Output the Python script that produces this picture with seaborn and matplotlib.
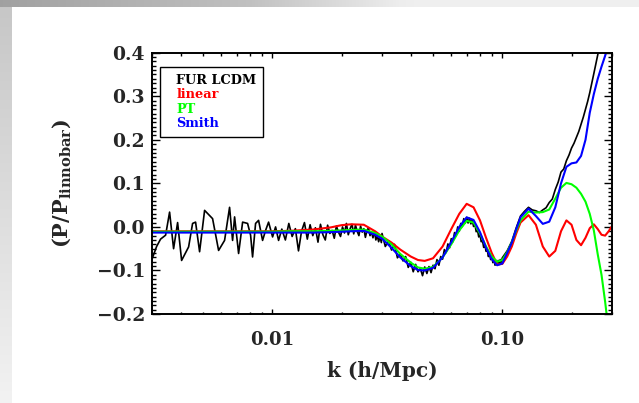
import numpy as np
import matplotlib
matplotlib.use('Agg')
import matplotlib.pyplot as plt
import seaborn as sns
from matplotlib.ticker import FixedLocator, MultipleLocator, NullFormatter

# smooth model curves
model_k = [0.003, 0.005, 0.008, 0.01, 0.012, 0.015, 0.018, 0.02, 0.022, 0.025,
           0.028, 0.03, 0.033, 0.036, 0.04, 0.043, 0.046, 0.05, 0.055, 0.06,
           0.065, 0.07, 0.075, 0.08, 0.085, 0.09, 0.095, 0.1, 0.105, 0.11,
           0.115, 0.12, 0.13, 0.14, 0.15, 0.16, 0.17, 0.18, 0.19, 0.20,
           0.21, 0.22, 0.23, 0.24, 0.25, 0.26, 0.27, 0.28, 0.29, 0.30]
linear_v = [-0.010, -0.010, -0.010, -0.010, -0.009, -0.006, -0.001, 0.004, 0.006, 0.005,
            -0.010, -0.022, -0.036, -0.052, -0.068, -0.076, -0.078, -0.072, -0.045, -0.005,
            0.030, 0.053, 0.045, 0.015, -0.025, -0.060, -0.086, -0.085, -0.068, -0.045,
            -0.015, 0.010, 0.027, 0.005, -0.045, -0.068, -0.055, -0.010, 0.015, 0.005,
            -0.030, -0.042, -0.025, -0.003, 0.006, -0.005, -0.018, -0.020, -0.010, 0.002]
pt_v = [-0.011, -0.011, -0.011, -0.011, -0.010, -0.010, -0.009, -0.008, -0.007, -0.006,
        -0.014, -0.022, -0.040, -0.062, -0.082, -0.093, -0.096, -0.092, -0.070, -0.040,
        -0.008, 0.014, 0.010, -0.015, -0.045, -0.068, -0.080, -0.076, -0.058, -0.035,
        -0.008, 0.015, 0.035, 0.033, 0.034, 0.040, 0.065, 0.090, 0.101, 0.098,
        0.090, 0.076, 0.058, 0.030, -0.008, -0.063, -0.110, -0.172, -0.240, -0.300]
smith_v = [-0.013, -0.013, -0.013, -0.013, -0.013, -0.013, -0.012, -0.011, -0.010, -0.009,
           -0.018, -0.027, -0.048, -0.070, -0.090, -0.099, -0.100, -0.094, -0.070, -0.035,
           0.000, 0.022, 0.016, -0.012, -0.048, -0.074, -0.088, -0.084, -0.060, -0.036,
           -0.005, 0.022, 0.042, 0.025, 0.007, 0.012, 0.045, 0.100, 0.138, 0.146,
           0.148, 0.163, 0.200, 0.262, 0.305, 0.340, 0.368, 0.393, 0.420, 0.440]

# noisy simulation ratio (FUR LCDM)
fur_k = [0.003008, 0.003141, 0.003268, 0.003437, 0.003577, 0.003723, 0.003876, 0.004034,
         0.004327, 0.004503, 0.004640, 0.004830, 0.005078, 0.005501, 0.005842, 0.006203,
         0.006521, 0.006720, 0.006857, 0.007137, 0.007430, 0.007810, 0.008048, 0.008209,
         0.008460, 0.008718, 0.009074, 0.009352, 0.009636, 0.010030, 0.010335, 0.010651,
         0.0110, 0.0114, 0.0118, 0.0122, 0.0126, 0.0130, 0.0134, 0.0138, 0.0142, 0.0146,
         0.0150, 0.0154, 0.0158, 0.0162, 0.0166, 0.0170, 0.0174, 0.0178, 0.0182, 0.0186,
         0.0190, 0.0194, 0.0198, 0.0202, 0.0206, 0.0210, 0.0214, 0.0218, 0.0222, 0.0226,
         0.0230, 0.0234, 0.0238, 0.0242, 0.0246, 0.0250, 0.0254, 0.0258, 0.0262, 0.0266,
         0.0270, 0.0274, 0.0278, 0.0282, 0.0286, 0.0290, 0.0294, 0.0298,
         0.030, 0.031, 0.032, 0.033, 0.034, 0.035, 0.036, 0.037, 0.038, 0.039,
         0.040, 0.041, 0.042, 0.043, 0.044, 0.045, 0.046, 0.047, 0.048, 0.049,
         0.050, 0.051, 0.052, 0.053, 0.054, 0.055, 0.056, 0.057, 0.058, 0.059,
         0.060, 0.061, 0.062, 0.063, 0.064, 0.065, 0.066, 0.067, 0.068, 0.069,
         0.070, 0.071, 0.072, 0.073, 0.074, 0.075, 0.076, 0.077, 0.078, 0.079,
         0.080, 0.081, 0.082, 0.083, 0.084, 0.085, 0.086, 0.087, 0.088, 0.089,
         0.090, 0.091, 0.092, 0.093, 0.094, 0.095, 0.096, 0.097, 0.098, 0.099,
         0.100, 0.105, 0.110, 0.115, 0.120, 0.125, 0.130, 0.135, 0.140, 0.145,
         0.150, 0.155, 0.160, 0.165, 0.170, 0.175, 0.180, 0.185, 0.190, 0.195,
         0.200, 0.205, 0.210, 0.215, 0.220, 0.225, 0.230, 0.235, 0.240, 0.245,
         0.250, 0.255, 0.260, 0.265, 0.270, 0.280, 0.290, 0.300]
fur_v = [-0.072, -0.045, -0.028, -0.019, 0.034, -0.050, 0.010, -0.077,
         -0.046, 0.008, 0.011, -0.057, 0.038, 0.019, -0.054, -0.031,
         0.045, -0.031, 0.023, -0.061, 0.011, 0.008, -0.019, -0.069,
         0.008, 0.015, -0.031, -0.008, 0.011, -0.023, 0.000, -0.031,
         -0.005, -0.030, 0.008, -0.022, -0.004, -0.055, -0.010, 0.010, -0.028, 0.005,
         -0.020, -0.002, -0.035, 0.006, -0.018, -0.030, 0.004, -0.015, -0.008, -0.026,
         0.002, -0.012, -0.022, 0.000, -0.014, 0.008, -0.018, -0.004, 0.006, -0.016,
         0.004, -0.010, -0.020, 0.002, -0.012, -0.004, -0.024, -0.008, -0.002, -0.020,
         -0.012, -0.025, -0.010, -0.030, -0.020, -0.034, -0.022, -0.036,
         -0.015, -0.045, -0.032, -0.053, -0.040, -0.071, -0.062, -0.078, -0.068, -0.093,
         -0.081, -0.103, -0.086, -0.103, -0.095, -0.112, -0.092, -0.107, -0.091, -0.105,
         -0.088, -0.096, -0.075, -0.088, -0.068, -0.074, -0.052, -0.059, -0.039, -0.048,
         -0.027, -0.034, -0.013, -0.020, 0.000, -0.010, 0.008, 0.001, 0.019, 0.009,
         0.022, 0.009, 0.020, 0.007, 0.016, 0.001, 0.006, -0.011, -0.007, -0.023,
         -0.018, -0.034, -0.031, -0.047, -0.042, -0.056, -0.052, -0.068, -0.062, -0.075,
         -0.068, -0.082, -0.074, -0.088, -0.077, -0.088, -0.077, -0.086, -0.075, -0.081,
         -0.071, -0.055, -0.033, -0.002, 0.025, 0.036, 0.045, 0.039, 0.037, 0.033,
         0.039, 0.044, 0.056, 0.064, 0.086, 0.103, 0.126, 0.133, 0.152, 0.165,
         0.181, 0.192, 0.206, 0.219, 0.236, 0.252, 0.270, 0.288, 0.308, 0.330,
         0.352, 0.374, 0.396, 0.416, 0.436, 0.476, 0.516, 0.556]

series_names = ['FUR LCDM', 'linear', 'PT', 'Smith']
series_colors = ['black', '#ff0000', '#00ff00', '#0000ff']
x_ticks = [0.01, 0.1]
x_tick_labels = ['0.01', '0.10']
y_ticks = [-0.2, -0.1, 0.0, 0.1, 0.2, 0.3, 0.4]
y_tick_labels = ['\u22120.2', '\u22120.1', '0.0', '0.1', '0.2', '0.3', '0.4']

sns.set_theme(style='ticks')
plt.rcParams['font.family'] = ['DejaVu Serif']
plt.rcParams['font.weight'] = 'bold'
plt.rcParams['mathtext.fontset'] = 'dejavuserif'
plt.rcParams['mathtext.default'] = 'bf'

fig = plt.figure(figsize=(6.39, 4.03), dpi=100)
fig.patch.set_facecolor('white')

# screenshot-style grey margins
bg = fig.add_axes([0, 0, 1, 1], zorder=-5)
grad = np.ones((403, 639, 3))
top = np.linspace(0.63, 0.95, 639)
top = np.minimum(top + np.clip((np.arange(639) - 250) / 150, 0, 1) * 0.1, 0.94)
grad[:7, :, :] = top[None, :, None]
grad[7:, :12, :] = np.linspace(0.78, 0.95, 396)[:, None, None]
bg.imshow(grad, aspect='auto', extent=[0, 1, 0, 1])
bg.axis('off')

ax = fig.add_axes([0.2379, 0.2208, 0.7199, 0.6484])
ax.set_facecolor('white')

sns.lineplot(x=fur_k, y=fur_v, ax=ax, color=series_colors[0], lw=1.2,
             label=series_names[0], sort=False, estimator=None)
sns.lineplot(x=model_k, y=linear_v, ax=ax, color=series_colors[1], lw=1.5,
             label=series_names[1], sort=False, estimator=None)
sns.lineplot(x=model_k, y=pt_v, ax=ax, color=series_colors[2], lw=1.5,
             label=series_names[2], sort=False, estimator=None)
sns.lineplot(x=model_k, y=smith_v, ax=ax, color=series_colors[3], lw=1.5,
             label=series_names[3], sort=False, estimator=None)

ax.set_xscale('log')
ax.set_xlim(0.003, 0.30)
ax.set_ylim(-0.2, 0.4)
ax.xaxis.set_major_locator(FixedLocator(x_ticks))
ax.set_xticklabels(x_tick_labels)
ax.xaxis.set_minor_formatter(NullFormatter())
ax.yaxis.set_major_locator(FixedLocator(y_ticks))
ax.set_yticklabels(y_tick_labels)
ax.yaxis.set_minor_locator(MultipleLocator(0.01))

for s in ax.spines.values():
    s.set_linewidth(1.4)
    s.set_color('black')
ax.tick_params(which='both', direction='in', top=True, right=True, color='black', width=1.0)
ax.tick_params(axis='x', which='major', length=3.5, pad=12, labelsize=13)
ax.tick_params(axis='x', which='minor', length=1.8)
ax.tick_params(axis='y', which='major', length=6, pad=5, labelsize=13.5)
ax.tick_params(axis='y', which='minor', length=3)
for lab in ax.get_xticklabels() + ax.get_yticklabels():
    lab.set_fontweight('bold')

ax.set_xlabel('k (h/Mpc)', fontsize=14.5, fontweight='bold', labelpad=9)
ax.set_ylabel('(P/P$_{linnobar}$)', fontsize=15, fontweight='bold', labelpad=17)

leg = ax.legend(loc='upper left', bbox_to_anchor=(0.0174, 0.946), borderaxespad=0,
                handlelength=0.7, handletextpad=0, labelcolor='linecolor',
                frameon=True, fancybox=False, framealpha=1, edgecolor='black',
                prop={'family': 'DejaVu Serif', 'weight': 'bold', 'size': 9.3},
                labelspacing=0.1, borderpad=0.55)
leg.get_frame().set_linewidth(1.0)
for h in leg.legend_handles:
    h.set_visible(False)

fig.savefig('out.png', dpi=100)
